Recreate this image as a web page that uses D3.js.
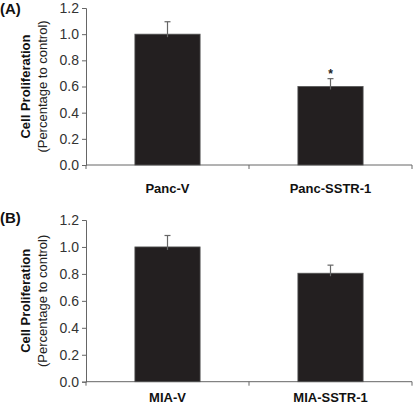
<!DOCTYPE html>
<html><head><meta charset="utf-8">
<script src="https://cdn.jsdelivr.net/npm/d3@7"></script>
<style>body{margin:0;background:#fff}svg{display:block}text{font-family:Arial,"Liberation Sans",sans-serif}</style>
</head><body>
<svg id="c" width="413" height="411"></svg>
<script>
const panelLabels = ["(A)", "(B)"];
const categoriesA = ["Panc-V", "Panc-SSTR-1"];
const valuesA = [1.0, 0.6];
const errorsA = [0.095, 0.06];
const starsA = ["", "*"];
const categoriesB = ["MIA-V", "MIA-SSTR-1"];
const valuesB = [1.0, 0.805];
const errorsB = [0.085, 0.06];
const starsB = ["", ""];
const yTicks = [0, 0.2, 0.4, 0.6, 0.8, 1.0, 1.2];
const yTitle = "Cell Proliferation";
const ySub = "(Percentage to control)";

const svg = d3.select("#c");
const axisColor = "#666";
const barColor = "#231f20";

function panel(cfg) {
  const g = svg.append("g");
  const x = d3.scaleBand().domain(cfg.cats).range([86, 412]).paddingInner(0.6).paddingOuter(0.3);
  const y = d3.scaleLinear().domain([0, 1.2]).range([cfg.y0, cfg.y1]);
  const ya = g.append("g").attr("transform", "translate(86,0)")
    .call(d3.axisLeft(y).tickValues(yTicks).tickFormat(d3.format(".1f")).tickSize(4).tickPadding(3));
  ya.select(".domain").attr("stroke", axisColor);
  ya.selectAll(".tick line").attr("stroke", axisColor);
  ya.selectAll(".tick text").attr("font-size", 14).attr("fill", "#333").attr("font-family", "Arial, 'Liberation Sans', sans-serif");
  const xa = d3.scaleLinear().domain([0, cfg.cats.length]).range([86, 412]);
  g.append("line").attr("x1", 86).attr("x2", 412).attr("y1", cfg.y0).attr("y2", cfg.y0).attr("stroke", axisColor);
  d3.range(cfg.cats.length + 1).forEach(i => {
    g.append("line").attr("x1", xa(i)).attr("x2", xa(i)).attr("y1", cfg.y0).attr("y2", cfg.y0 + 4).attr("stroke", axisColor);
  });
  g.selectAll("rect.bar").data(cfg.vals).enter().append("rect")
    .attr("x", (d, i) => x(cfg.cats[i])).attr("width", x.bandwidth())
    .attr("y", d => y(d)).attr("height", d => cfg.y0 - y(d))
    .attr("fill", barColor).attr("stroke", "#555").attr("stroke-width", 0.8);
  cfg.vals.forEach((v, i) => {
    const cx = x(cfg.cats[i]) + x.bandwidth() / 2;
    g.append("line").attr("x1", cx).attr("x2", cx).attr("y1", y(v) + 3).attr("y2", y(v + cfg.errs[i])).attr("stroke", "#666").attr("stroke-width", 1.2);
    g.append("line").attr("x1", cx - 3).attr("x2", cx + 3).attr("y1", y(v + cfg.errs[i])).attr("y2", y(v + cfg.errs[i])).attr("stroke", "#666").attr("stroke-width", 1.2);
    if (cfg.stars[i]) g.append("text").attr("x", cx).attr("y", y(v + cfg.errs[i]) - 1).attr("text-anchor", "middle")
      .attr("font-size", 12).attr("font-weight", "bold").attr("fill", "#222").text(cfg.stars[i]);
    g.append("text").attr("x", cx).attr("y", cfg.labelY).attr("text-anchor", "middle")
      .attr("font-size", 13).attr("font-weight", "bold").attr("fill", "#111").text(cfg.cats[i]);
  });
  const mid = (cfg.y0 + cfg.y1) / 2;
  g.append("text").attr("transform", `translate(30,${mid}) rotate(-90)`).attr("text-anchor", "middle")
    .attr("font-size", 13).attr("font-weight", "bold").attr("fill", "#111").text(yTitle);
  g.append("text").attr("transform", `translate(47,${mid}) rotate(-90)`).attr("text-anchor", "middle")
    .attr("font-size", 13).attr("fill", "#222").text(ySub);
  g.append("text").attr("x", 0).attr("y", cfg.panelY).attr("font-size", 15).attr("font-weight", "bold").attr("fill", "#111").text(cfg.panel);
}

panel({ panel: panelLabels[0], cats: categoriesA, vals: valuesA, errs: errorsA, stars: starsA, y0: 165, y1: 8, labelY: 193, panelY: 14 });
panel({ panel: panelLabels[1], cats: categoriesB, vals: valuesB, errs: errorsB, stars: starsB, y0: 381.7, y1: 220, labelY: 401.5, panelY: 223 });
</script>
</body></html>
